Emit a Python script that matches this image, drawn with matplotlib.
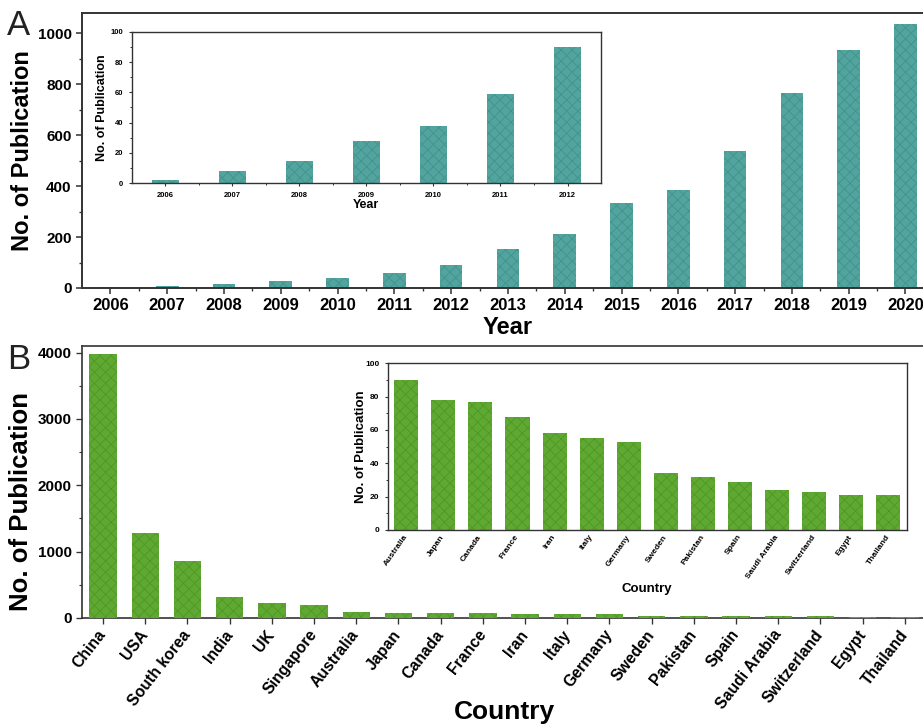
import numpy as np
import matplotlib
matplotlib.use("Agg")
import matplotlib.pyplot as plt
from matplotlib.ticker import MultipleLocator

plt.rcParams['font.family'] = ['Liberation Sans', 'DejaVu Sans']
plt.rcParams['hatch.linewidth'] = 0.6

# panel A: publications per year
years = [2006, 2007, 2008, 2009, 2010, 2011, 2012, 2013, 2014, 2015, 2016, 2017, 2018, 2019, 2020]
pubs_year = [2, 8, 15, 28, 38, 59, 90, 153, 212, 332, 383, 536, 767, 935, 1037]
inset_years = years[:7]
inset_pubs_year = pubs_year[:7]

# panel B: publications per country
countries = ['China', 'USA', 'South korea', 'India', 'UK', 'Singapore', 'Australia', 'Japan',
             'Canada', 'France', 'Iran', 'Italy', 'Germany', 'Sweden', 'Pakistan', 'Spain',
             'Saudi Arabia', 'Switzerland', 'Egypt', 'Thailand']
pubs_country = [3980, 1285, 865, 310, 230, 195, 90, 78, 77, 68, 58, 55, 53, 34, 32, 29, 24, 23, 21, 21]
inset_countries = countries[6:]
inset_pubs_country = pubs_country[6:]

teal = '#52a49e'
teal_hatch = '#43928c'
green = '#5fa932'
green_hatch = '#4f9726'
spine_c = '#333333'

fig = plt.figure(figsize=(9.23, 7.25), dpi=100)


def style(ax, lw=1.4, major=4, minor=2.5, size=11):
    for s in ['left', 'bottom', 'top', 'right']:
        ax.spines[s].set_color(spine_c)
        ax.spines[s].set_linewidth(lw)
    ax.tick_params(which='major', direction='out', length=major, width=lw * 0.8,
                   color=spine_c, labelsize=size)
    ax.tick_params(which='minor', direction='out', length=minor, width=lw * 0.7, color=spine_c)
    ax.tick_params(top=False, right=False, which='both')
    for lab in ax.get_xticklabels() + ax.get_yticklabels():
        lab.set_fontweight('bold')


# ---- A main
axA = fig.add_axes([0.0888, 0.6028, 0.923, 0.3793])
axA.bar(years, pubs_year, width=0.4, color=teal, edgecolor=teal_hatch, hatch='xxx', linewidth=0)
axA.set_xlim(2005.5, 2020.5)
axA.set_ylim(0, 1080)
axA.set_xticks(years)
axA.set_xticks(np.array(years[:-1]) + 0.5, minor=True)
axA.yaxis.set_major_locator(MultipleLocator(200))
axA.yaxis.set_minor_locator(MultipleLocator(100))
style(axA, size=12)
axA.tick_params(axis='y', labelsize=11)
axA.set_xlabel('Year', fontsize=17, fontweight='bold', labelpad=2)
axA.set_ylabel('No. of Publication', fontsize=17, fontweight='bold')
axA.yaxis.set_label_coords(-0.056, 0.5)

# ---- A inset
axAi = fig.add_axes([0.1427, 0.7472, 0.5085, 0.2091])
axAi.bar(inset_years, inset_pubs_year, width=0.4, color=teal, edgecolor=teal_hatch, hatch='xxx', linewidth=0)
axAi.set_xlim(2005.5, 2012.5)
axAi.set_ylim(0, 100)
axAi.set_xticks(inset_years)
axAi.set_xticks(np.array(inset_years[:-1]) + 0.5, minor=True)
axAi.yaxis.set_major_locator(MultipleLocator(20))
axAi.yaxis.set_minor_locator(MultipleLocator(10))
style(axAi, lw=1.0, major=2.5, minor=1.5, size=5.5)
axAi.set_xlabel('Year', fontsize=9, fontweight='bold', labelpad=0)
axAi.set_ylabel('No. of Publication', fontsize=9, fontweight='bold')
axAi.yaxis.set_label_coords(-0.05, 0.5)

# ---- B main
axB = fig.add_axes([0.0888, 0.1476, 0.9144, 0.3752])
xb = np.arange(len(countries))
axB.bar(xb, pubs_country, width=0.65, color=green, edgecolor=green_hatch, hatch='xxx',
        linewidth=0, zorder=3)
axB.set_xlim(-0.5, len(countries) - 0.5)
axB.set_ylim(0, 4100)
axB.set_xticks(xb)
axB.set_xticklabels(countries, rotation=52, ha='right', va='center', rotation_mode='anchor')
axB.yaxis.set_major_locator(MultipleLocator(1000))
axB.yaxis.set_minor_locator(MultipleLocator(500))
style(axB, lw=1.2, size=11)
axB.tick_params(axis='x', labelsize=11.3, pad=6)
axB.set_xlabel('Country', fontsize=19, fontweight='bold', va='top')
axB.xaxis.set_label_coords(0.5, -0.30)
axB.set_ylabel('No. of Publication', fontsize=18.5, fontweight='bold')
axB.yaxis.set_label_coords(-0.058, 0.43)

# ---- B inset
axBi = fig.add_axes([0.42, 0.269, 0.5626, 0.23])
xi = np.arange(len(inset_countries))
axBi.bar(xi, inset_pubs_country, width=0.65, color=green, edgecolor=green_hatch, hatch='xxx', linewidth=0)
axBi.set_xlim(-0.5, len(inset_countries) - 0.5)
axBi.set_ylim(0, 100)
axBi.set_xticks(xi)
axBi.set_xticklabels(inset_countries, rotation=55, ha='right', va='center', rotation_mode='anchor')
axBi.yaxis.set_major_locator(MultipleLocator(20))
axBi.yaxis.set_minor_locator(MultipleLocator(10))
style(axBi, lw=1.0, major=2.5, minor=1.5, size=6)
axBi.tick_params(axis='x', length=0, pad=4)
axBi.set_xlabel('Country', fontsize=9.5, fontweight='bold', labelpad=2)
axBi.set_ylabel('No. of Publication', fontsize=9.5, fontweight='bold')
axBi.yaxis.set_label_coords(-0.04, 0.5)

fig.text(0.008, 0.988, 'A', fontsize=25, va='top', ha='left', color='#222222')
fig.text(0.008, 0.527, 'B', fontsize=25, va='top', ha='left', color='#222222')

fig.savefig('out.png', dpi=100)
